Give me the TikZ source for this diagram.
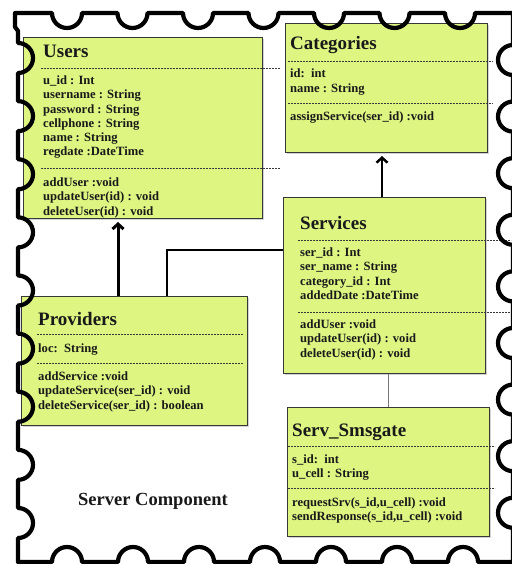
\documentclass[tikz,border=0pt]{standalone}
\usepackage{fontspec}
\setmainfont{Liberation Serif}
\usetikzlibrary{arrows.meta,shadows}
\definecolor{boxfill}{RGB}{222,245,130}
\definecolor{boxline}{RGB}{55,55,55}
\definecolor{txtc}{RGB}{25,25,25}
\definecolor{thinline}{RGB}{120,120,120}
\newcommand\umllines[4]{\foreach \t [count=\i] in {#4}{\node[bodytxt] (#1\i) at (#2,{#3+14.3*(\i-1)}) {\t};}}
\begin{document}
\begin{tikzpicture}[x=1pt,y=-1pt,
  umlbox/.style={draw=boxline,line width=1pt,fill=boxfill,anchor=north west,inner sep=0pt,
    drop shadow={shadow xshift=1.2pt,shadow yshift=-1.2pt,opacity=0.35}},
  sep/.style={draw=boxline,line width=0.7pt,dash pattern=on 2pt off 1pt},
  bodytxt/.style={anchor=base west,inner sep=0pt,text=txtc,font=\bfseries\fontsize{12.6}{14}\selectfont},
  titletxt/.style={anchor=base west,inner sep=0pt,text=txtc,font=\bfseries\fontsize{19}{22}\selectfont},
  stamp/.style={draw=black,line width=4.2pt,line join=round},
  conn/.style={draw=black,line width=1.5pt},
  arr/.style={draw=black,-{Straight Barb[length=5pt,width=11pt]},shorten >=3pt}]
\useasboundingbox (0,0) rectangle (511,564);
% boxes
\node[umlbox,minimum width=239pt,minimum height=181pt] (users) at (23,37) {};
\node[umlbox,minimum width=202pt,minimum height=129pt] (cat) at (285,23) {};
\node[umlbox,minimum width=202pt,minimum height=176pt] (serv) at (283,197) {};
\node[umlbox,minimum width=226pt,minimum height=129pt] (prov) at (21,296) {};
\node[umlbox,minimum width=202pt,minimum height=129pt] (sms) at (287,407) {};
% separators
\draw[sep] (41,68) -- (280,68);
\draw[sep] (41,168) -- (280,168);
\draw[sep] (288,61) -- (493,61);
\draw[sep] (288,103) -- (493,103);
\draw[sep] (298,240) -- (511,240);
\draw[sep] (298,312) -- (511,312);
\draw[sep] (37,334) -- (243,334);
\draw[sep] (37,363) -- (243,363);
\draw[sep] (288,446) -- (495,446);
\draw[sep] (288,488) -- (495,488);
% texts
\node[titletxt] (usersT) at (43,58) {Users};
\umllines{ua}{43}{84.5}{u\_id : Int,username : String,password : String,cellphone : String,name : String,regdate :DateTime}
\umllines{um}{43}{186.5}{addUser :void,updateUser(id) : void,deleteUser(id) : void}
\node[titletxt] (catT) at (290,50) {Categories};
\umllines{ca}{290}{78}{id:~~int,name : String}
\umllines{cm}{290}{121}{assignService(ser\_id) :void}
\node[titletxt] (servT) at (300,229) {Services};
\umllines{sa}{300}{256.5}{ser\_id : Int,ser\_name : String,category\_id : Int,addedDate :DateTime}
\umllines{sm}{300}{328.5}{addUser :void,updateUser(id) : void,deleteUser(id) : void}
\node[titletxt] (provT) at (38,325) {Providers};
\umllines{pa}{38}{352.5}{loc:~~String}
\umllines{pm}{38}{380.5}{addService :void,updateService(ser\_id) : void,deleteService(ser\_id) : boolean}
\node[titletxt] (smsT) at (292,436) {Serv\_Smsgate};
\umllines{ma}{292}{463.5}{s\_id:~~int,u\_cell : String}
\umllines{mm}{292}{506.5}{{requestSrv(s\_id,u\_cell) :void},{sendResponse(s\_id,u\_cell) :void}}
\node[titletxt,font=\bfseries\fontsize{18.5}{22}\selectfont] (srvcomp) at (78,505) {Server Component};
% connectors
\coordinate (pux) at (118,0);
\coordinate (spk) at (167,250);
\coordinate (sck) at (382,0);
\coordinate (ssk) at (388,0);
\draw[arr,line width=3pt] (prov.north -| pux) -- (users.south -| pux);
\draw[conn] (serv.west |- spk) -| (prov.north -| spk);
\draw[arr,line width=2.5pt] (serv.north -| sck) -- (cat.south -| sck);
\draw[draw=thinline,line width=0.9pt] (serv.south -| ssk) -- (sms.north -| ssk);
% stamp border
\draw[stamp] (15,13)
  foreach \k in {0,...,6} { -- ({67+65.5*\k-15},13) arc[start angle=180,end angle=0,radius=15] }
  -- (513,13)
  foreach \k in {0,...,8} { -- (513,{60+56.6*\k-15}) arc[start angle=270,end angle=90,radius=15] }
  -- (513,562)
  foreach \k in {0,...,6} { -- ({463-66*\k+15},562) arc[start angle=360,end angle=180,radius=15] }
  -- (18,562)
  foreach \k in {0,...,8} { -- (18,{523-58.125*\k+15}) arc[start angle=90,end angle=-90,radius=15] }
  -- (18,31) -- (15,27) -- cycle;
\end{tikzpicture}
\end{document}
